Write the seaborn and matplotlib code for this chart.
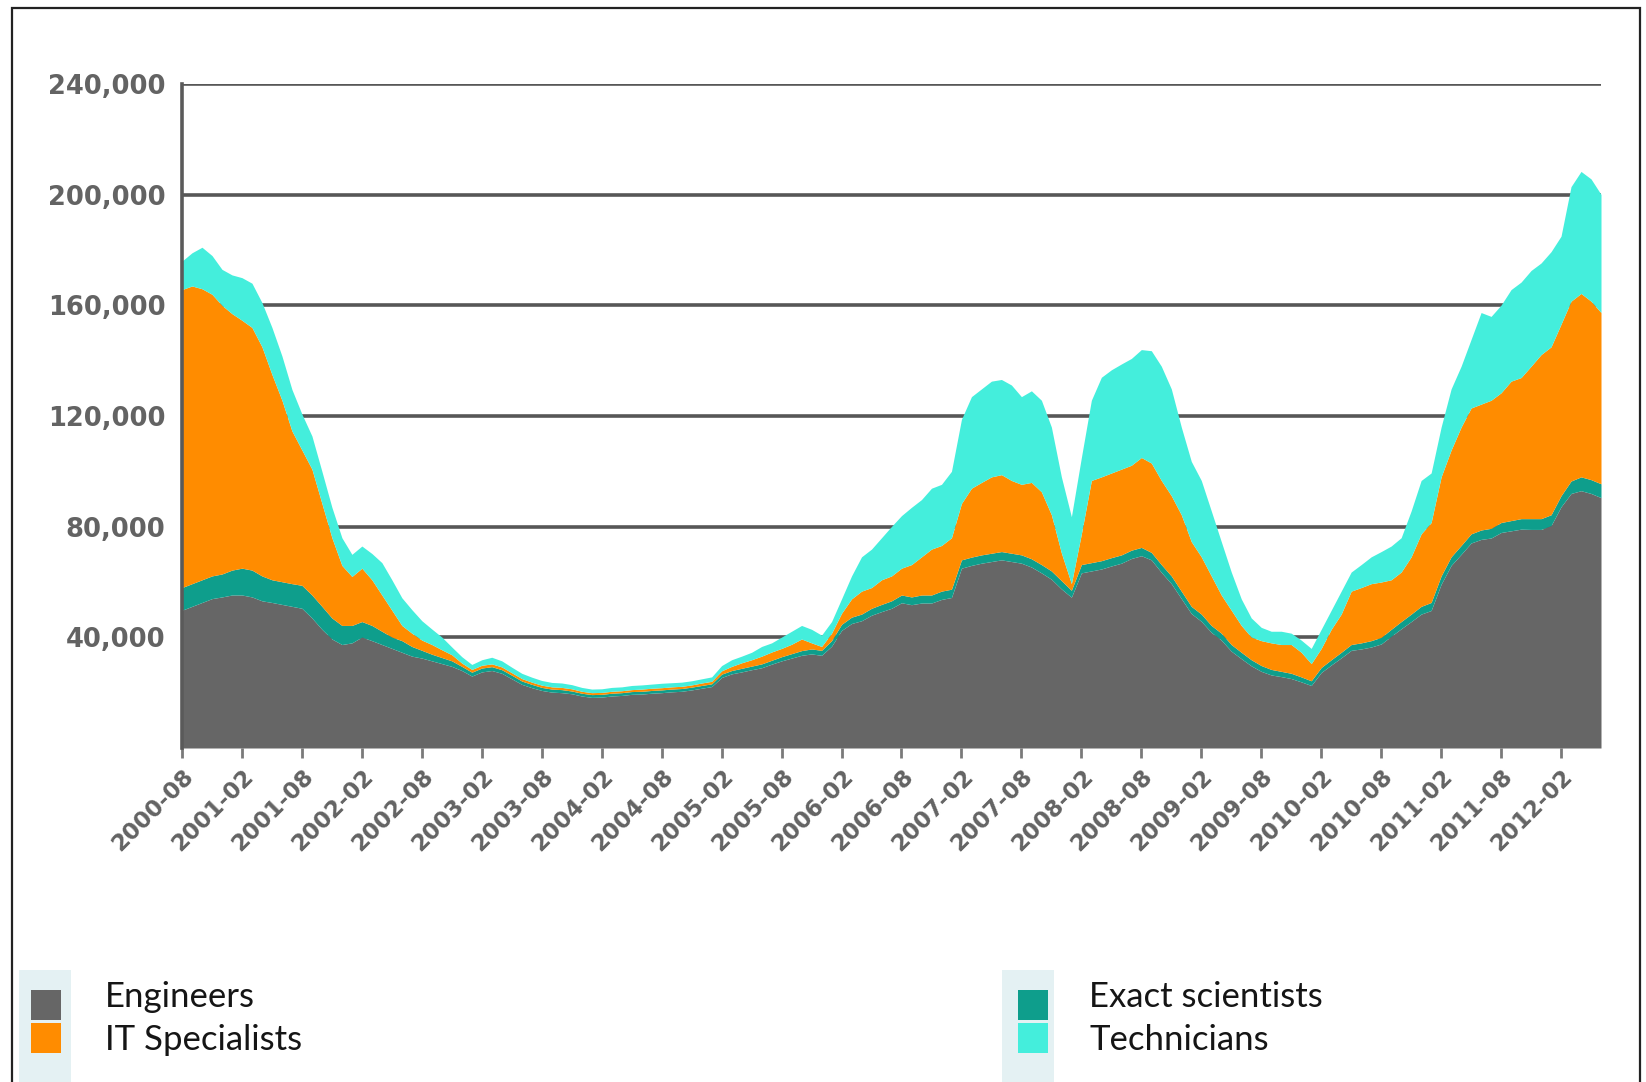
import matplotlib.pyplot as plt
from matplotlib.patches import Rectangle
import pandas as pd
import seaborn as sns

# Monthly vacancies (thousands), 2000-08 .. 2012-06
engineers = [
    49.8, 51.2, 52.6, 54.0, 54.6, 55.3, 55.3, 54.6, 53.2, 52.6,
    51.9, 51.2, 50.5, 47.0, 42.9, 39.4, 37.4, 38.0, 40.1, 38.8,
    37.4, 36.0, 34.6, 33.2, 32.5, 31.5, 30.5, 29.5, 28.0, 26.0,
    27.5, 28.0, 27.0, 25.0, 23.0, 21.8, 20.8, 20.2, 20.0, 19.6,
    18.8, 18.3, 18.4, 18.8, 19.0, 19.4, 19.5, 19.8, 20.0, 20.3,
    20.5, 21.0, 21.6, 22.2, 25.5, 26.8, 27.5, 28.3, 29.0, 30.3,
    31.5, 32.5, 33.5, 34.0, 33.5, 36.8, 42.5, 45.0, 46.0, 48.0,
    49.3, 50.5, 52.5, 51.8, 52.4, 52.4, 53.7, 54.4, 65.0, 66.0,
    66.8, 67.4, 68.0, 67.4, 66.8, 65.4, 63.3, 61.0, 57.5, 54.5,
    63.3, 64.0, 64.7, 65.8, 66.8, 68.5, 69.5, 68.0, 63.5, 59.4,
    54.0, 48.6, 45.8, 41.8, 39.0, 35.0, 32.3, 29.7, 27.7, 26.4,
    25.8, 25.1, 23.9, 22.6, 27.3, 30.0, 32.6, 35.3, 35.8, 36.5,
    37.6, 40.4, 43.1, 45.7, 48.4, 49.7, 59.2, 66.0, 70.0, 74.1,
    75.4, 75.9, 77.9, 78.5, 79.1, 79.0, 79.0, 80.4, 87.2, 92.0,
    93.0, 92.0, 90.5,
]
exact_scientists = [
    8.2, 8.2, 8.2, 8.2, 8.3, 9.0, 9.7, 9.7, 9.0, 8.2,
    8.2, 8.2, 8.3, 8.3, 8.3, 7.6, 6.9, 6.3, 5.6, 5.5,
    4.8, 4.1, 4.2, 3.5, 2.8, 2.4, 2.2, 2.0, 1.5, 1.4,
    1.4, 1.4, 1.3, 1.3, 1.2, 1.2, 1.1, 1.1, 1.1, 1.0,
    1.0, 1.0, 1.0, 1.0, 1.0, 1.0, 1.0, 1.0, 1.0, 1.0,
    1.0, 1.0, 1.0, 1.0, 1.2, 1.2, 1.3, 1.3, 1.4, 1.4,
    1.5, 1.6, 1.7, 1.8, 1.8, 2.0, 2.2, 2.3, 2.4, 2.5,
    2.6, 2.7, 2.8, 2.8, 2.9, 2.9, 3.0, 3.0, 3.0, 3.0,
    3.0, 3.0, 3.0, 3.0, 3.0, 3.0, 3.0, 3.0, 3.0, 2.5,
    3.0, 3.0, 3.0, 3.0, 3.0, 3.0, 3.0, 2.7, 2.8, 2.8,
    2.7, 2.6, 2.6, 2.5, 2.5, 2.4, 2.3, 2.2, 2.1, 2.0,
    1.9, 1.9, 1.8, 1.7, 1.8, 1.9, 2.0, 2.1, 2.2, 2.3,
    2.4, 2.5, 2.6, 2.7, 2.8, 2.9, 3.0, 3.1, 3.2, 3.3,
    3.4, 3.5, 3.6, 3.7, 3.8, 3.9, 3.9, 3.9, 4.0, 4.5,
    5.0, 5.0, 5.0,
]
it_specialists = [
    107.7, 107.6, 105.2, 101.8, 97.1, 92.7, 89.6, 87.7, 82.8, 74.2,
    65.6, 55.2, 48.9, 45.5, 37.2, 29.0, 21.7, 17.7, 19.3, 16.5,
    13.1, 9.7, 5.5, 4.8, 3.7, 3.5, 2.8, 2.2, 1.2, 1.0,
    1.0, 1.0, 1.0, 0.9, 0.9, 0.8, 0.8, 0.8, 0.8, 0.8,
    0.7, 0.7, 0.7, 0.7, 0.7, 0.7, 0.8, 0.8, 0.8, 0.8,
    0.8, 0.8, 0.9, 0.9, 1.2, 1.5, 2.0, 2.3, 2.8, 3.0,
    3.0, 3.4, 4.2, 2.2, 1.4, 2.7, 4.0, 6.6, 8.3, 7.5,
    8.9, 9.0, 9.7, 11.7, 13.8, 16.6, 16.5, 18.6, 20.4, 24.9,
    26.2, 27.6, 27.8, 26.3, 25.5, 27.6, 26.3, 20.3, 10.0, 2.4,
    11.1, 29.7, 30.3, 30.6, 31.0, 30.7, 32.5, 32.3, 30.4, 29.0,
    27.6, 23.4, 20.7, 17.9, 13.8, 12.4, 9.7, 8.2, 9.0, 9.6,
    9.7, 10.4, 8.9, 6.2, 6.9, 11.0, 13.8, 19.3, 20.0, 20.6,
    20.0, 17.9, 17.9, 20.7, 26.2, 28.9, 35.8, 38.6, 42.8, 45.5,
    45.5, 46.3, 46.9, 50.4, 51.0, 55.1, 59.3, 60.7, 62.0, 65.0,
    66.3, 64.5, 61.9,
]
technicians = [
    10.3, 12.0, 15.0, 14.0, 13.0, 14.0, 15.4, 16.0, 16.0, 17.0,
    16.0, 15.0, 13.0, 12.0, 11.6, 11.0, 10.0, 8.0, 8.0, 9.5,
    11.7, 11.0, 10.0, 8.5, 7.0, 5.6, 4.6, 2.8, 2.3, 1.8,
    2.0, 2.4, 2.2, 2.0, 1.9, 1.8, 1.7, 1.6, 1.6, 1.5,
    1.4, 1.3, 1.3, 1.4, 1.4, 1.5, 1.5, 1.5, 1.6, 1.5,
    1.5, 1.5, 1.5, 1.6, 1.9, 2.4, 2.4, 2.7, 3.5, 3.3,
    4.1, 4.7, 4.9, 4.9, 4.1, 4.2, 5.2, 8.3, 12.4, 13.9,
    15.2, 17.9, 19.0, 20.7, 20.7, 22.0, 22.1, 24.0, 30.4, 33.1,
    33.8, 34.6, 34.4, 34.5, 31.7, 33.1, 33.1, 31.7, 27.5, 24.2,
    27.6, 29.0, 36.0, 37.3, 38.0, 38.6, 39.0, 40.6, 41.3, 38.6,
    31.7, 29.0, 27.6, 23.5, 19.3, 13.8, 9.6, 6.9, 4.8, 4.2,
    4.8, 4.1, 4.4, 5.5, 6.9, 6.9, 8.3, 6.9, 8.3, 9.7,
    11.0, 12.2, 12.4, 16.6, 19.3, 17.9, 18.0, 22.1, 22.0, 24.8,
    33.1, 30.3, 31.7, 33.1, 34.5, 34.6, 33.1, 34.4, 31.8, 41.4,
    44.1, 44.2, 42.7,
]

groups = ["Engineers", "Exact scientists", "IT Specialists", "Technicians"]
colors = {"Engineers": "#666666", "Exact scientists": "#0e9e8c",
          "IT Specialists": "#ff8c00", "Technicians": "#44eedc"}

months = pd.date_range("2000-08-01", periods=len(engineers), freq="MS")
tick_pos = list(range(0, len(months) - 4, 6))
tick_labels = [months[i].strftime("%Y-%m") for i in tick_pos]

# long table for seaborn
frames = []
for name, vals in zip(groups, [engineers, exact_scientists, it_specialists, technicians]):
    frames.append(pd.DataFrame({"month": range(len(vals)), "group": name,
                                "value": [v * 1000 for v in vals]}))
df = pd.concat(frames, ignore_index=True)

sns.set_theme(style="white")
plt.rcParams["font.family"] = ["DejaVu Sans"]

W, H = 1646, 1082
fig = plt.figure(figsize=(W / 100, H / 100), dpi=100)
ax = fig.add_axes([182 / W, 1 - 748 / H, (1601 - 182) / W, (748 - 84) / H])

# stacked areas - seaborn puts the last hue level at the bottom
sns.histplot(data=df, x="month", weights="value", hue="group",
             hue_order=groups[::-1], palette=colors, multiple="stack",
             element="poly", discrete=True, alpha=1, linewidth=0,
             legend=False, ax=ax)

ax.set_xlim(0, len(months) - 1)
ax.set_ylim(0, 240000)
ax.set_axisbelow(True)
ax.yaxis.grid(True, color="#575757", linewidth=2.6)
ax.xaxis.grid(False)

ax.set_yticks(range(40000, 240001, 40000))
ax.set_yticklabels([f"{v:,}" for v in range(40000, 240001, 40000)],
                   fontweight="bold")
ax.set_xticks(tick_pos)
ax.set_xticklabels(tick_labels, fontweight="bold")
plt.setp(ax.get_xticklabels(), rotation=45, ha="right", va="top",
         rotation_mode="anchor")
ax.set(xlabel=None, ylabel=None)

ax.tick_params(axis="y", length=0, pad=12, labelsize=18.5, labelcolor="#636363")
ax.tick_params(axis="x", bottom=True, length=7, width=2, color="#7a7a7a",
               pad=5, labelsize=16.5, labelcolor="#636363")

for side in ["top", "right", "bottom"]:
    ax.spines[side].set_visible(False)
ax.spines["left"].set_color("#5a5a5a")
ax.spines["left"].set_linewidth(2.6)

# outer frame
fig.add_artist(Rectangle((12 / W, -0.05), (1640 - 12) / W, 1.05 - 8 / H,
                         transform=fig.transFigure, fill=False,
                         edgecolor="#222222", linewidth=1.6))

# legend in two columns at the bottom
def legend_col(x_strip, x_box, x_text, names):
    fig.add_artist(Rectangle((x_strip / W, 0), 52 / W, 1 - 970 / H,
                             transform=fig.transFigure, color="#e4f1f3",
                             linewidth=0))
    for k, name in enumerate(names):
        top = 990 + k * 33
        fig.add_artist(Rectangle((x_box / W, 1 - (top + 30) / H), 30 / W, 30 / H,
                                 transform=fig.transFigure,
                                 color=colors[name], linewidth=0))
        fig.text(x_text / W, 1 - (1007 + k * 43) / H, name, fontsize=25,
                 family=["Lato", "DejaVu Sans"], color="#151515",
                 va="baseline", ha="left")

legend_col(19, 31, 105, ["Engineers", "IT Specialists"])
legend_col(1002, 1018, 1089, ["Exact scientists", "Technicians"])

fig.savefig("out.png", dpi=100, facecolor="white")
